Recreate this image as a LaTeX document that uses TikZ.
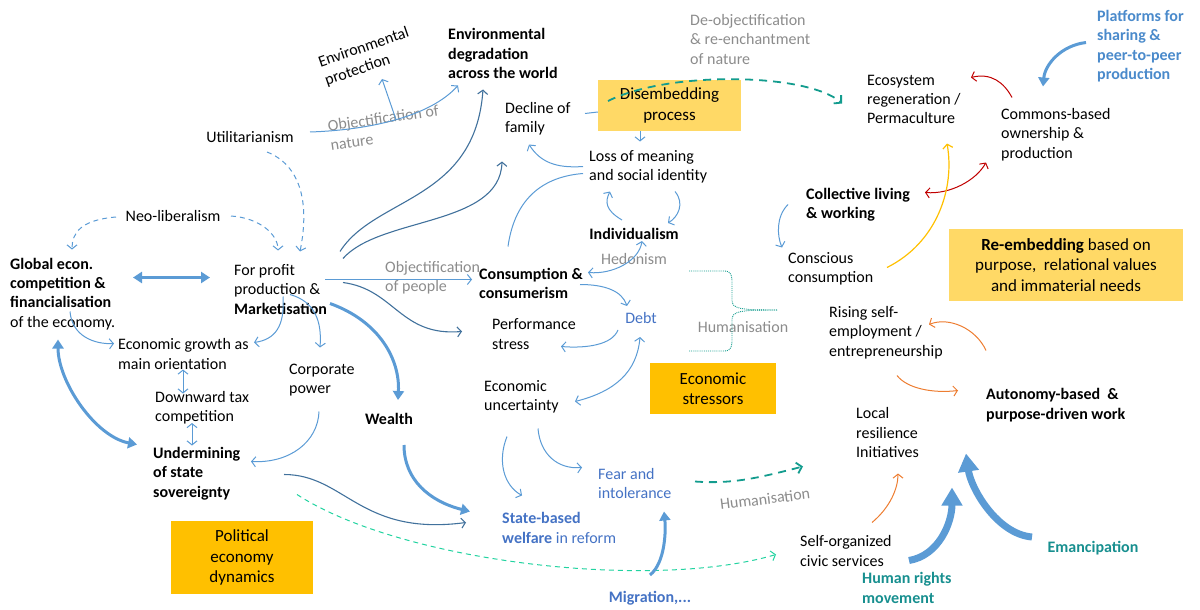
\documentclass[tikz,border=0pt]{standalone}
\usepackage{fontspec}
\setmainfont{Carlito}
\usetikzlibrary{calc,arrows.meta}
\usepackage{xcolor}

\definecolor{cLight}{HTML}{5B9BD5}
\definecolor{cDark}{HTML}{41719C}
\definecolor{cText}{HTML}{4472C4}
\definecolor{cPlat}{HTML}{4A8ACB}
\definecolor{cTeal}{HTML}{178F8F}
\definecolor{cTealDash}{HTML}{139C8E}
\definecolor{cMint}{HTML}{22D3A0}
\definecolor{cRed}{HTML}{C00000}
\definecolor{cGold}{HTML}{FFC000}
\definecolor{cOrange}{HTML}{ED7D31}
\definecolor{cGray}{HTML}{8C8C8C}
\definecolor{cBoxA}{HTML}{FFD966}
\definecolor{cBoxB}{HTML}{FFC000}

\newcommand\diafont{\fontsize{16}{19.3}\selectfont}

\begin{document}
\begin{tikzpicture}[x=1pt,y=-1pt,
    every node/.style={font=\diafont},
    txt/.style={inner sep=0pt, align=left, anchor=west, yshift=-1.5pt},
    gry/.style={text=cGray},
    bx/.style={inner sep=0pt, align=center, font=\fontsize{17}{20.5}\selectfont},
    ln/.style={cLight, line width=1pt},
    arr/.style={cLight, line width=1pt, -{Straight Barb[length=4pt,width=10pt]}},
    dblarr/.style={cLight, line width=1pt, {Straight Barb[length=4pt,width=10pt]}-{Straight Barb[length=4pt,width=10pt]}},
    darkarr/.style={cDark, line width=1.1pt, -{Straight Barb[length=4pt,width=10pt]}},
    dsharr/.style={cLight, line width=1pt, dash pattern=on 5pt off 4pt, -{Straight Barb[length=4pt,width=10pt]}},
    fat/.style={cLight, line width=3pt, -{Triangle[length=9pt,width=11pt]}},
    fatdbl/.style={cLight, line width=3pt, {Triangle[length=9pt,width=11pt]}-{Triangle[length=9pt,width=11pt]}},
    huge/.style={cLight, line width=7pt, -{Triangle[length=18pt,width=20pt]}},
    tealarr/.style={cTealDash, line width=1.8pt, dash pattern=on 8pt off 6pt, -{Straight Barb[length=5pt,width=11pt]}},
    mintarr/.style={cMint, line width=1pt, dash pattern=on 5pt off 4pt, -{Straight Barb[length=4pt,width=10pt]}},
    redarr/.style={cRed, line width=1pt, -{Straight Barb[length=4pt,width=10pt]}},
    reddbl/.style={cRed, line width=1pt, {Straight Barb[length=4pt,width=10pt]}-{Straight Barb[length=4pt,width=10pt]}},
    goldarr/.style={cGold, line width=1.2pt, -{Straight Barb[length=4pt,width=10pt]}},
    orarr/.style={cOrange, line width=1pt, -{Straight Barb[length=4pt,width=10pt]}}
]
\useasboundingbox (0,0) rectangle (1200,610);

% boxes
\node[bx, fill=cBoxA, minimum width=143pt, minimum height=51pt] (disemb) at (669.5,105.5) {Disembedding\\process};
\node[bx, fill=cBoxA, minimum width=234pt, minimum height=72pt] (reemb) at (1066,265) {\textbf{Re-embedding} based on\\purpose,~ relational values\\and immaterial needs};
\node[bx, fill=cBoxB, minimum width=126pt, minimum height=51pt] (stress) at (713,388.5) {Economic\\stressors};
\node[bx, fill=cBoxB, minimum width=142pt, minimum height=73pt] (polit) at (242,557.5) {Political\\economy\\dynamics};

% political economy side
\node[txt] (glob) at (10,292.5) {\textbf{Global econ.}\\\textbf{competition \&}\\\textbf{financialisation}\\of the economy.};
\node[txt] (prof) at (234,288) {For profit\\production \&\\\textbf{Marketisation}};
\node (util) at (250,137) {Utilitarianism};
\node (neo) at (173,216) {Neo-liberalism};
\node[align=left, rotate=19] (envprot) at (367,57) {Environmental\\protection};
\node[txt, gry, rotate=8] (objnat) at (329,134) {Objectification of\\nature};
\node[txt, font=\diafont\bfseries] (envdeg) at (448,52) {Environmental\\degradation\\across the world};
\node[txt] (growth) at (118,352.5) {Economic growth as\\main orientation};
\node[txt] (corp) at (289,378.5) {Corporate\\power};
\node[txt] (tax) at (155,406.5) {Downward tax\\competition};
\node[txt, font=\diafont\bfseries] (under) at (153,472) {Undermining\\of state\\sovereignty};
\node[font=\diafont\bfseries] (wealth) at (389,419) {Wealth};

% disembedding and stressors
\node[txt, gry] (deobj) at (690,38) {De-objectification\\\& re-enchantment\\of nature};
\node[txt] (decl) at (505,117.5) {Decline of\\family};
\node[txt] (loss) at (589,165) {Loss of meaning\\and social identity};
\node[font=\diafont\bfseries] (indiv) at (634,234) {Individualism};
\node[gry] (hed) at (634,259) {Hedonism};
\node[txt, gry] (objp) at (385,276) {Objectification\\of people};
\node[txt, font=\diafont\bfseries] (cons) at (479,282) {Consumption \&\\consumerism};
\node[txt] (perf) at (492,332.5) {Performance\\stress};
\node[text=cText] (debt) at (641,318) {Debt};
\node[gry] (human1) at (743,327) {Humanisation};
\node[txt] (unc) at (484,395.5) {Economic\\uncertainty};
\node[txt, text=cText] (fear) at (598,482) {Fear and\\intolerance};
\node[gry, rotate=7] (human2) at (765,499) {Humanisation};
\node[txt, text=cText] (welf) at (502,526.5) {\textbf{State-based}\\\textbf{welfare} in reform};
\node[text=cText, font=\diafont\bfseries] (migr) at (650,598) {Migration,...};

% re-embedding side
\node[txt, text=cPlat, font=\diafont\bfseries] (plat) at (1097,44.5) {Platforms for\\sharing \&\\peer-to-peer\\production};
\node[txt] (eco) at (867,98) {Ecosystem\\regeneration /\\Permaculture};
\node[txt] (comm) at (1001,133) {Commons-based\\ownership \&\\production};
\node[txt, font=\diafont\bfseries] (coll) at (806,203.5) {Collective living\\\& working};
\node[txt] (consc) at (788,267.5) {Conscious\\consumption};
\node[txt] (rise) at (829,331) {Rising self-\\employment /\\entrepreneurship};
\node[txt, font=\diafont\bfseries] (auto) at (986,403.5) {Autonomy-based~ \&\\purpose-driven work};
\node[txt] (local) at (856,431) {Local\\resilience\\Initiatives};
\node[txt] (self) at (800,549.5) {Self-organized\\civic services};
\node[txt, text=cTeal, font=\diafont\bfseries] (hr) at (862,586.5) {Human rights\\movement};
\node[text=cTeal, font=\diafont\bfseries] (eman) at (1093,548) {Emancipation};

% ideology arrows
\draw[dsharr] ($(util)+(17,15)$) .. controls +(33,13) and +(10,-50) .. ($(prof.west)+(66,-38)$);
\draw[dsharr] ($(neo)+(-57,1)$) .. controls +(-36,3) and +(0,-16) .. ($(glob.west)+(62,-44.5)$);
\draw[dsharr] ($(neo)+(58,0)$) .. controls +(29,2) and +(0,-16) .. ($(prof.west)+(44,-39)$);
\draw[fatdbl] ($(glob.west)+(123,-16.5)$) -- ($(prof.west)+(-24,-12)$);
\draw[arr] ($(util)+(60,-5)$) .. controls +(60,-2) and +(-28,31) .. ($(envdeg.west)+(10,32)$) coordinate[pos=0.5] (objn);
\draw[arr] (objn) -- ($(envprot)+(15,22)$);

% from for profit production
\draw[darkarr] ($(prof.west)+(106,-38)$) .. controls +(35,-55) and +(-8,112) .. ($(envdeg.west)+(35,36)$);
\draw[darkarr] ($(prof.west)+(109,-31)$) .. controls +(37,-42) and +(-2,65) .. ($(decl.west)+(-3,42.5)$);
\draw[arr] ($(prof.west)+(91,-10)$) -- ($(cons.west)+(-7,-4)$);
\draw[darkarr] ($(prof.west)+(109,-7)$) .. controls +(52,7) and +(-62,5) .. ($(perf.west)+(-30,-2.5)$);
\draw[fat] ($(prof.west)+(96,14)$) .. controls +(50,18) and +(2,-40) .. ($(wealth)+(9,-19)$);
\draw[arr] ($(prof.west)+(49,7)$) .. controls +(2,30) and +(21,-3) .. ($(growth.west)+(136,-11.5)$);
\draw[arr] ($(prof.west)+(56,5)$) .. controls +(25,7) and +(2,-26) .. ($(corp.west)+(31,-32.5)$);

% state side
\draw[arr] ($(glob.west)+(60,17.5)$) .. controls +(2,25) and +(-19,1) .. ($(growth.west)+(-4,-10.5)$);
\draw[fatdbl] ($(glob.west)+(48,45.5)$) .. controls +(0,42) and +(-42,-8) .. ($(under.west)+(-16,-29)$);
\draw[dblarr] ($(growth.west)+(65,15.5)$) -- ($(tax.west)+(28,-14.5)$);
\draw[dblarr] ($(tax.west)+(37,15)$) -- ($(under.west)+(39,-28)$);
\draw[arr] ($(corp.west)+(30,31.5)$) .. controls +(-1,30) and +(39,2) .. ($(under.west)+(98,-12)$);
\draw[darkarr] ($(under.west)+(131,1)$) .. controls +(61,0) and +(-106,14) .. ($(welf.west)+(-36,-5.5)$);
\draw[mintarr] ($(under.west)+(144,21)$) .. controls +(103,67) and +(-126,37) .. ($(self.west)+(-24,3.5)$);
\draw[fat] ($(wealth)+(15,26)$) .. controls +(0,35) and +(-40,-10) .. ($(welf.west)+(-32,-16.5)$);

% disembedding loop
\draw[ln] ($(cons.west)+(29,-37)$) .. controls +(7,-50) and +(-38,3) .. ($(loss.west)+(-6,7)$);
\draw[arr] ($(loss.west)+(-6,0)$) .. controls +(-28,2) and +(11,17) .. ($(decl.west)+(24,25.5)$);
\draw[ln] ($(decl.west)+(80,-5.5)$) -- ($(disemb.west)+(0,6.5)$);
\draw[arr] ($(disemb.south)+(-29.5,0)$) -- ($(loss.west)+(51,-25)$);
\draw[arr] ($(indiv)+(-12,-14)$) .. controls +(-17,-10) and +(-5,10) .. ($(loss.west)+(21,25)$);
\draw[arr] ($(loss.west)+(86,25)$) .. controls +(10,12) and +(10,-6) .. ($(indiv)+(34,-11)$);
\draw[dblarr] ($(cons.west)+(109,-11)$) .. controls +(25,2) and +(-3,20) .. ($(indiv)+(8,7)$);

% stressors
\draw[arr] ($(cons.west)+(101,1)$) .. controls +(25,0) and +(-5,-15) .. ($(debt)+(-14,-12)$);
\draw[arr] ($(debt)+(-23,12)$) .. controls +(-6,15) and +(25,2) .. ($(perf.west)+(69,12.5)$);
\draw[dblarr] ($(debt)+(-1,19)$) .. controls +(-3,35) and +(40,-10) .. ($(unc.west)+(91,4.5)$);
\draw[arr] ($(unc.west)+(23,39.5)$) .. controls +(-10,25) and +(-18,-10) .. ($(welf.west)+(20,-32.5)$);
\draw[arr] ($(unc.west)+(54,31.5)$) .. controls +(2,25) and +(-25,2) .. ($(fear.west)+(-16,-16)$);
\draw[fat] ($(migr)+(0,-23)$) .. controls +(15,-12) and +(2,20) .. ($(fear.west)+(66,28)$);

% humanisation
\draw[tealarr] ($(fear.west)+(97,-2)$) .. controls +(40,3) and +(-40,10) .. ($(local.west)+(-53,34)$);
\draw[tealarr] ($(disemb)+(-61.5,-4.5)$) .. controls +(62,-31) and +(-33,-30) .. ($(eco.west)+(-25,4)$);
\draw[cTealDash, line width=0.9pt, densely dotted] (689,271) -- (724,271) .. controls (732,271) and (732,276) .. (732,284) -- (732,300) .. controls (732,309) and (740,310) .. (777,310);
\draw[cTealDash, line width=0.9pt, densely dotted] (689,351) -- (724,351) .. controls (732,351) and (732,346) .. (732,338) -- (732,320) .. controls (732,311) and (740,310) .. (777,310);

% re-embedding
\draw[redarr] ($(comm.west)+(11,-37)$) .. controls +(-8,-15) and +(20,-5) .. ($(eco.west)+(104,-22)$);
\draw[reddbl] ($(comm.west)+(-15,28)$) .. controls +(-10,18) and +(25,2) .. ($(coll.west)+(119,-12.5)$);
\draw[goldarr] ($(consc.west)+(99,-1.5)$) .. controls +(50,-25) and +(8,45) .. ($(eco.west)+(80,44)$);
\draw[fat] ($(plat.west)+(-11,-3.5)$) .. controls +(-25,3) and +(2,-22) .. ($(comm.west)+(42,-48)$);
\draw[arr] ($(coll.west)+(-18,-0.5)$) .. controls +(-12,12) and +(-5,-12) .. ($(consc.west)+(-6,-21.5)$);
\draw[orarr] ($(auto.west)+(0,-54.5)$) .. controls +(-10,-22) and +(20,-8) .. ($(rise.west)+(100,-8)$);
\draw[orarr] ($(rise.west)+(68,43)$) .. controls +(10,13) and +(-25,3) .. ($(auto.west)+(-28,-14.5)$);
\draw[orarr] ($(self.west)+(72,-28.5)$) .. controls +(18,-15) and +(0,15) .. ($(local.west)+(42,41)$);
\draw[huge] ($(hr.west)+(47,-27.5)$) .. controls +(30,-5) and +(0,35) .. ($(auto.west)+(-34,82.5)$);
\draw[huge] ($(eman)+(-61,-11)$) .. controls +(-35,-3) and +(5,35) .. ($(auto.west)+(-20,48.5)$);
\end{tikzpicture}
\end{document}
